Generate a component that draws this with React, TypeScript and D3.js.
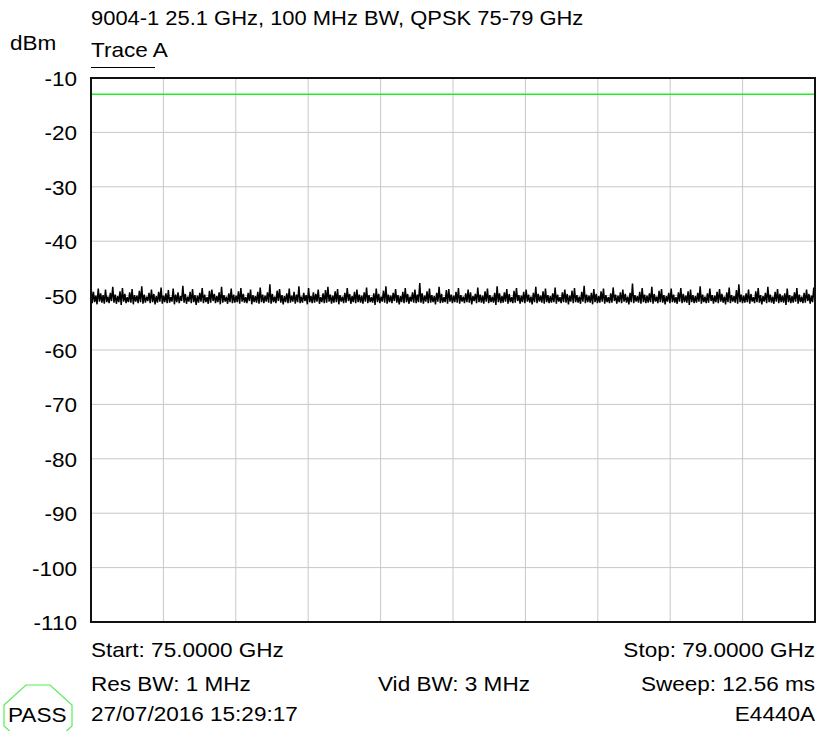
import React from "react";
import * as d3 from "d3";

const W = 820;
const H = 731;

const yTicks = [-10, -20, -30, -40, -50, -60, -70, -80, -90, -100, -110];
const xStart = 75;
const xStop = 79;
const xDivisions = 10;
const limitLine = -13;

const title = "9004-1 25.1 GHz, 100 MHz BW, QPSK 75-79 GHz";
const yUnit = "dBm";
const traceLabel = "Trace A";
const footLeft = ["Start: 75.0000 GHz", "Res BW: 1 MHz", "27/07/2016 15:29:17"];
const footMid = ["Vid BW: 3 MHz"];
const footRight = ["Stop: 79.0000 GHz", "Sweep: 12.56 ms", "E4440A"];
const passText = "PASS";

// Trace A amplitude readings (dBm), read across the sweep
const traceA = [
  -48.1,-51.4,-49.3,-51.2,-50.0,-51.6,-48.7,-51.1,-49.6,-51.3,-49.9,-51.5,-48.9,-51.2,-50.2,-51.4,-49.5,-51.0,-48.4,-51.3,
  -49.8,-51.5,-50.1,-51.2,-49.2,-51.7,-48.6,-51.1,-49.7,-51.4,-50.3,-51.2,-49.4,-51.3,-48.8,-51.6,-49.9,-51.1,-50.0,-51.4,
  -49.1,-51.2,-48.3,-51.5,-49.8,-51.3,-50.2,-51.0,-49.5,-51.4,-48.9,-51.2,-49.7,-51.6,-50.1,-51.3,-49.3,-51.1,-48.5,-51.5,
  -50.0,-51.2,-49.6,-51.4,-49.0,-51.3,-50.3,-51.1,-48.7,-51.6,-49.8,-51.2,-49.4,-51.4,-50.1,-51.0,-48.2,-51.3,-49.7,-51.5,
  -50.2,-51.1,-49.3,-51.4,-48.8,-51.2,-49.9,-51.7,-50.0,-51.3,-49.5,-51.1,-48.6,-51.4,-49.8,-51.2,-50.3,-51.5,-49.1,-51.3,
  -48.9,-51.0,-49.7,-51.4,-50.1,-51.2,-49.4,-51.6,-48.4,-51.3,-49.9,-51.1,-50.2,-51.5,-49.6,-51.2,-48.7,-51.4,-49.8,-51.3,
  -50.0,-51.2,-49.2,-51.5,-48.6,-51.1,-49.7,-51.3,-50.3,-51.4,-49.5,-51.0,-48.9,-51.6,-49.9,-51.2,-50.1,-51.3,-49.3,-51.5,
  -48.5,-51.2,-49.8,-51.4,-50.0,-51.1,-49.4,-51.3,-47.9,-51.5,-49.7,-51.2,-50.2,-51.4,-49.1,-51.0,-48.8,-51.3,-49.9,-51.6,
  -50.1,-51.2,-49.6,-51.4,-48.7,-51.3,-50.0,-51.1,-49.3,-51.5,-49.8,-51.2,-48.3,-51.4,-50.2,-51.3,-49.5,-51.0,-49.9,-51.6,
  -48.6,-51.2,-50.1,-51.4,-49.4,-51.3,-49.7,-51.1,-48.9,-51.5,-50.3,-51.2,-49.6,-51.4,-49.0,-51.3,-48.4,-51.1,-49.8,-51.5,
  -50.0,-51.3,-49.2,-51.2,-48.8,-51.6,-49.9,-51.1,-50.2,-51.4,-49.5,-51.3,-48.6,-51.0,-49.7,-51.5,-50.1,-51.2,-49.3,-51.4,
  -48.9,-51.2,-49.8,-51.3,-50.0,-51.5,-49.4,-51.1,-48.5,-51.4,-49.9,-51.2,-50.3,-51.3,-49.6,-51.7,-48.7,-51.2,-49.7,-51.4,
  -50.2,-51.1,-49.1,-51.3,-48.3,-51.5,-49.8,-51.2,-50.0,-51.4,-49.5,-51.0,-48.8,-51.3,-49.9,-51.6,-50.1,-51.2,-49.3,-51.4,
  -48.6,-51.2,-49.7,-51.5,-50.2,-51.1,-49.4,-51.3,-48.9,-51.4,-49.8,-51.2,-47.7,-51.3,-49.6,-51.5,-50.0,-51.1,-49.2,-51.4,
  -48.7,-51.3,-49.9,-51.2,-50.1,-51.6,-49.5,-51.1,-48.4,-51.4,-49.7,-51.3,-50.3,-51.2,-49.0,-51.5,-48.8,-51.1,-49.8,-51.4,
  -50.0,-51.2,-49.3,-51.3,-48.6,-51.5,-49.9,-51.1,-50.2,-51.4,-49.6,-51.2,-48.9,-51.3,-49.4,-51.6,-50.1,-51.0,-49.7,-51.4,
  -48.5,-51.2,-49.8,-51.3,-50.0,-51.5,-49.2,-51.1,-48.7,-51.4,-49.9,-51.2,-50.2,-51.3,-49.5,-51.7,-48.3,-51.2,-49.6,-51.4,
  -50.1,-51.3,-49.4,-51.1,-48.8,-51.5,-49.7,-51.2,-50.3,-51.4,-49.1,-51.3,-48.6,-51.0,-49.9,-51.5,-50.0,-51.2,-49.3,-51.4,
  -48.9,-51.1,-49.8,-51.3,-50.2,-51.6,-49.5,-51.2,-48.4,-51.4,-49.7,-51.1,-50.0,-51.3,-49.2,-51.5,-48.7,-51.2,-49.9,-51.4,
  -50.1,-51.3,-49.6,-51.2,-48.5,-51.5,-49.8,-51.1,-50.3,-51.4,-49.4,-51.2,-48.9,-51.3,-49.7,-51.6,-50.0,-51.1,-49.1,-51.4,
  -48.6,-51.2,-49.9,-51.3,-50.2,-51.5,-49.3,-51.1,-48.2,-51.4,-49.8,-51.2,-50.0,-51.3,-49.5,-51.6,-48.8,-51.2,-49.7,-51.4,
  -50.1,-51.3,-49.2,-51.1,-48.7,-51.5,-49.9,-51.2,-50.3,-51.4,-49.6,-51.3,-48.5,-51.0,-49.8,-51.5,-50.0,-51.2,-49.4,-51.4,
  -48.9,-51.1,-49.7,-51.3,-50.2,-51.6,-49.5,-51.2,-47.8,-51.4,-49.9,-51.1,-50.1,-51.3,-49.3,-51.5,-48.6,-51.2,-49.8,-51.4,
  -50.0,-51.3,-49.6,-51.2,-48.4,-51.5,-49.7,-51.1,-50.2,-51.4,-49.1,-51.2,-48.8,-51.3,-49.9,-51.6,-50.1,-51.1,-49.5,-51.4,
  -48.7,-51.2,-49.8,-51.3,-50.3,-51.5,-49.4,-51.1,-48.6,-51.4,-49.7,-51.2,-50.0,-51.3,-49.2,-51.7,-48.9,-51.2,-49.9,-51.4,
  -50.1,-51.3,-49.5,-51.1,-48.3,-51.5,-49.8,-51.2,-50.2,-51.4,-49.6,-51.3,-48.7,-51.0,-49.9,-51.5,-50.0,-51.2,-49.3,-51.4,
  -48.8,-51.1,-49.7,-51.3,-50.2,-51.6,-49.4,-51.2,-48.5,-51.4,-49.9,-51.1,-50.1,-51.3,-49.0,-51.5,-47.9,-51.2,-49.8,-51.4,
  -50.0,-51.3,-49.6,-51.2,-48.9,-51.5,-49.7,-51.1,-50.3,-51.4,-49.2,-51.2,-48.6,-51.3,-49.9,-51.6,-50.1,-51.1,-49.5,-51.4,
  -48.4,-51.2,-49.8,-51.3,-50.2,-51.5,-49.3,-51.1,-48.8,-51.4,-49.7,-51.2,-50.0,-51.3,-49.6,-51.7,-48.7,-51.2,-49.9,-51.4,
  -50.1,-51.3,-49.4,-51.1,-48.6,-51.5,-49.8,-51.2,-50.2,-51.4,-49.5,-51.3,-48.9,-51.0,-49.7,-51.5,-50.0,-51.2,-48.5,-51.3,
];

const FS = 20.5;
const SX = 1.1;
const FONT = "'Liberation Sans', Arial, sans-serif";

function T({ x, y, anchor = "start", sx = SX, children }: { x: number; y: number; anchor?: string; sx?: number; children: React.ReactNode }) {
  return (
    <text
      transform={`translate(${x},${y}) scale(${sx},1)`}
      textAnchor={anchor}
      fontFamily={FONT}
      fontSize={FS}
      fill="#000"
    >
      {children}
    </text>
  );
}

export default function App() {
  const left = 91;
  const right = 815;
  const top = 78;
  const bottom = 622;

  const x = d3.scaleLinear().domain([xStart, xStop]).range([left, right]);
  const y = d3.scaleLinear().domain([-110, -10]).range([bottom, top]);
  const xIdx = d3.scaleLinear().domain([0, traceA.length - 1]).range([xStart, xStop]);

  const line = d3
    .line<number>()
    .x((_, i) => x(xIdx(i)))
    .y((d) => y(d));

  const xGrid = d3.range(1, xDivisions).map((i) => xStart + ((xStop - xStart) * i) / xDivisions);

  const octagon = [
    [26, 685],
    [50, 685],
    [72, 705],
    [72, 726],
    [50, 746],
    [26, 746],
    [4, 726],
    [4, 705],
  ];

  return (
    <svg
      width={W}
      height={H}
      style={{ position: "absolute", left: 0, top: 0, background: "#fff" }}
    >
      <rect x={0} y={0} width={W} height={H} fill="#fff" />
      <T x={91} y={25} sx={1.07}>{title}</T>
      <T x={10} y={50}>{yUnit}</T>
      <T x={91} y={57}>{traceLabel}</T>
      <line x1={91} x2={155} y1={67.5} y2={67.5} stroke="#000" strokeWidth={1.2} />

      {yTicks.slice(1, -1).map((t) => (
        <line key={"h" + t} x1={left} x2={right} y1={y(t)} y2={y(t)} stroke="#c8c8c8" strokeWidth={1} />
      ))}
      {xGrid.map((g) => (
        <line key={"v" + g} x1={x(g)} x2={x(g)} y1={top} y2={bottom} stroke="#c8c8c8" strokeWidth={1} />
      ))}

      <line x1={left} x2={right} y1={y(limitLine)} y2={y(limitLine)} stroke="#22ee22" strokeWidth={1.5} />

      <path d={line(traceA) || ""} fill="none" stroke="#000" strokeWidth={1.5} strokeLinejoin="miter" />

      <rect x={left} y={top} width={right - left} height={bottom - top} fill="none" stroke="#111" strokeWidth={2} />

      {yTicks.map((t) => (
        <T key={"yl" + t} x={77} y={y(t) + 8} anchor="end">{t}</T>
      ))}

      {footLeft.map((s, i) => (
        <T key={"fl" + i} x={91} y={[657, 690.5, 720.5][i]}>{s}</T>
      ))}
      {footMid.map((s, i) => (
        <T key={"fm" + i} x={378} y={690.5}>{s}</T>
      ))}
      {footRight.map((s, i) => (
        <T key={"fr" + i} x={815} y={[657, 690.5, 720.5][i]} anchor="end">{s}</T>
      ))}

      <polygon
        points={octagon.map((p) => p.join(",")).join(" ")}
        fill="none"
        stroke="#55ee55"
        strokeWidth={1.2}
      />
      <T x={8} y={722}>{passText}</T>
    </svg>
  );
}
